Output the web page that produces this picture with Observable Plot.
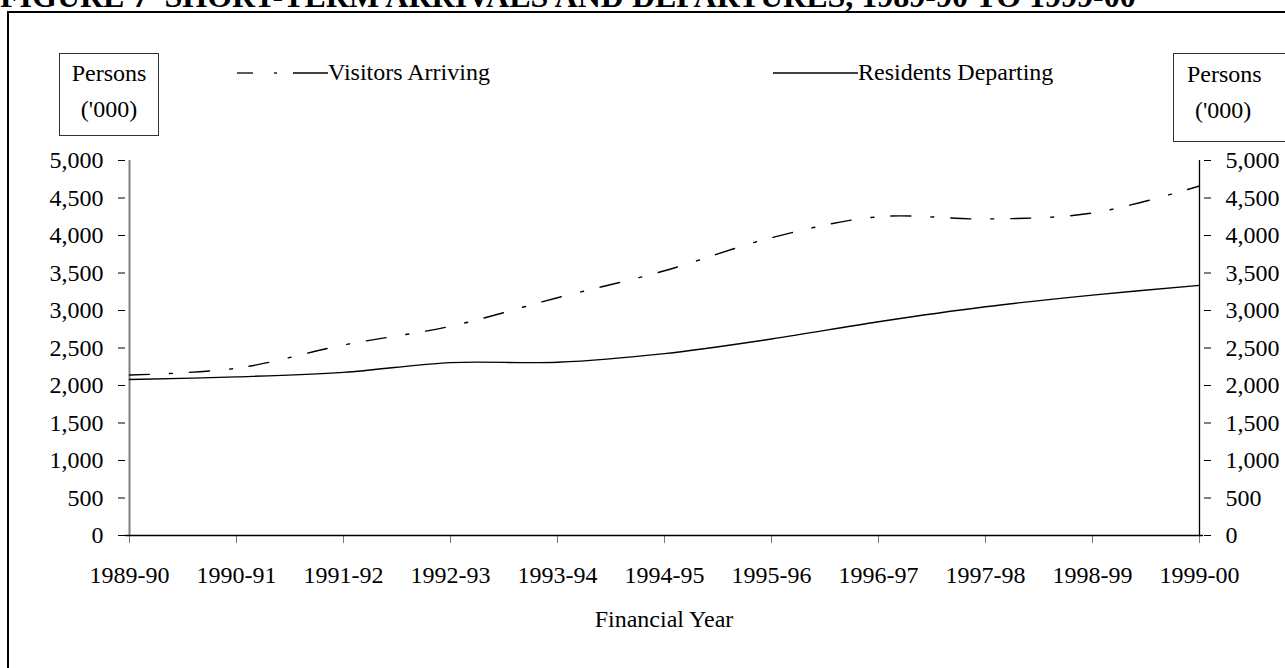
<!DOCTYPE html>
<html>
<head>
<meta charset="utf-8">
<script src="https://cdn.jsdelivr.net/npm/d3@7"></script>
<script src="https://cdn.jsdelivr.net/npm/@observablehq/plot@0.6"></script>
<style>
  html, body { margin: 0; padding: 0; background: #fff; overflow: hidden; }
  body { width: 1285px; height: 668px; position: relative; font-family: "Liberation Serif", "Times New Roman", serif; color: #000; }
  #title { position: absolute; left: 0; top: -20px; font-size: 32px; font-weight: bold; white-space: nowrap; line-height: 32px; }
  #frame { position: absolute; left: 7px; top: 11px; width: 1400px; height: 800px; border-left: 2px solid #000; border-top: 2px solid #000; }
  .box { position: absolute; border: 1px solid #333; text-align: center; font-size: 24px; line-height: 36px; background: #fff; }
  .leg { position: absolute; font-size: 24px; white-space: nowrap; line-height: 28px; }
  #chart { position: absolute; left: 0; top: 0; }
  #xtitle { position: absolute; left: 0; width: 1328px; text-align: center; top: 606px; font-size: 24px; }
</style>
</head>
<body>
<div id="title">FIGURE 7&nbsp; SHORT-TERM ARRIVALS AND DEPARTURES, 1989-90 TO 1999-00</div>
<div id="frame"></div>
<div id="chart"></div>
<div class="box" style="left:59px;top:53px;width:98px;height:81px;"><div style="margin-top:1px">Persons</div><div>('000)</div></div>
<div class="box" style="left:1173px;top:53px;width:160px;height:87px;text-align:left;"><div style="margin-top:2px;padding-left:13px">Persons</div><div style="padding-left:21px">('000)</div></div>
<div class="leg" style="left:236px;top:58px;">
  <svg width="92" height="28" style="vertical-align:top"><line x1="1" y1="15" x2="17" y2="15" stroke="#000" stroke-width="1.3"/><line x1="38" y1="15" x2="41" y2="15" stroke="#000" stroke-width="1.3"/><line x1="57" y1="15" x2="92" y2="15" stroke="#000" stroke-width="1.3"/></svg><span style="vertical-align:top">Visitors Arriving</span>
</div>
<div class="leg" style="left:773px;top:58px;">
  <svg width="85" height="28" style="vertical-align:top"><line x1="0" y1="15" x2="85" y2="15" stroke="#000" stroke-width="1.3"/></svg><span style="vertical-align:top">Residents Departing</span>
</div>
<div id="xtitle">Financial Year</div>
<script>
const years = ["1989-90","1990-91","1991-92","1992-93","1993-94","1994-95","1995-96","1996-97","1997-98","1998-99","1999-00"];
const visitorsArriving = [2140, 2230, 2540, 2790, 3170, 3530, 3970, 4250, 4220, 4300, 4660];
const residentsDeparting = [2080, 2115, 2175, 2305, 2310, 2425, 2620, 2850, 3050, 3205, 3335];
const yTicks = [0, 500, 1000, 1500, 2000, 2500, 3000, 3500, 4000, 4500, 5000];

const visitors = years.map((y, i) => ({year: y, value: visitorsArriving[i]}));
const residents = years.map((y, i) => ({year: y, value: residentsDeparting[i]}));
const fmt = d3.format(",");
const font = "Liberation Serif, Times New Roman, serif";

const chart = Plot.plot({
  width: 1285,
  height: 668,
  marginLeft: 125,
  marginRight: 82,
  marginTop: 160,
  marginBottom: 133,
  style: {background: "transparent", fontFamily: font, fontSize: "24px", color: "#000", overflow: "visible"},
  x: {type: "point", domain: years, padding: 0},
  y: {domain: [0, 5000]},
  marks: [
    Plot.axisY({anchor: "left", ticks: yTicks, tickFormat: fmt, tickSize: 7, tickPadding: 15, label: null, fontSize: 24, stroke: "#000", fill: "#000"}),
    Plot.axisY({anchor: "right", ticks: yTicks, tickFormat: fmt, tickSize: 7, tickPadding: 15, label: null, fontSize: 24, stroke: "#000", fill: "#000"}),
    Plot.axisX({anchor: "bottom", ticks: years, tickSize: 8, tickPadding: 22, label: null, fontSize: 24, stroke: "#777", fill: "#000"}),
    Plot.ruleX([years[0]], {stroke: "#808080", strokeWidth: 2}),
    Plot.ruleX([years[years.length - 1]], {stroke: "#000", strokeWidth: 1.3}),
    Plot.ruleY([0], {stroke: "#000", strokeWidth: 1.5}),
    Plot.line(residents, {x: "year", y: "value", stroke: "#000", strokeWidth: 1.4, curve: "catmull-rom"}),
    Plot.line(visitors, {x: "year", y: "value", stroke: "#000", strokeWidth: 1.4, curve: "catmull-rom", strokeDasharray: "20,20,3,17"})
  ]
});
document.getElementById("chart").appendChild(chart);
</script>
</body>
</html>
